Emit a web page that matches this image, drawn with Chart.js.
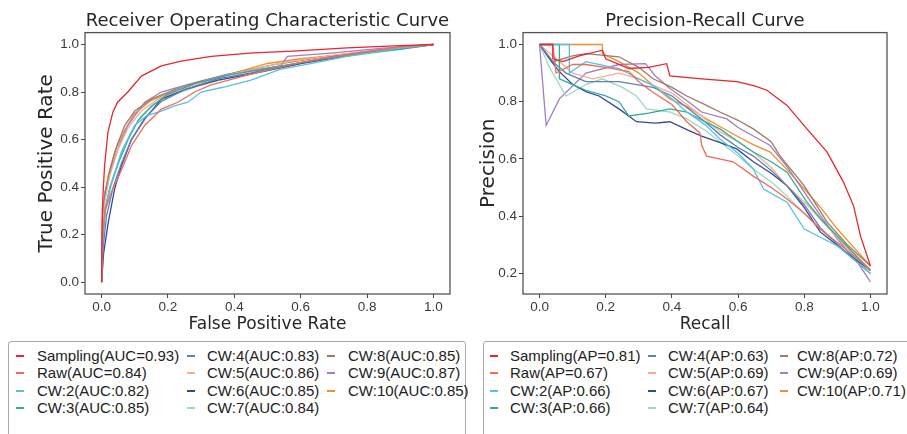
<!DOCTYPE html>
<html>
<head>
<meta charset="utf-8">
<script src="https://cdn.jsdelivr.net/npm/chart.js@4/dist/chart.umd.min.js"></script>
<style>
  body { margin: 0; width: 907px; height: 434px; overflow: hidden; background: #fff; position: relative; }
  canvas { position: absolute; top: 0; }
  #rocCanvas { left: 0; }
  #prCanvas { left: 460px; }
  .legend { position: absolute; top: 341px; height: 110px; border: 1.5px solid #a8a8a8; border-radius: 3px; box-sizing: border-box; }
  .item { position: absolute; font: 15px "Liberation Sans", Arial, sans-serif; color: #222; height: 17px; line-height: 17px; white-space: nowrap; }
  .swatch { position: absolute; height: 2px; width: 8px; }
</style>
</head>
<body>
<canvas id="rocCanvas" width="460" height="335"></canvas>
<canvas id="prCanvas" width="447" height="335"></canvas>
<div class="legend" id="rocLegend" style="left:8px; width:458px;"></div>
<div class="legend" id="prLegend" style="left:483px; width:440px;"></div>
<script>
const seriesNames = ["Sampling", "Raw", "CW:2", "CW:3", "CW:4", "CW:5", "CW:6", "CW:7", "CW:8", "CW:9", "CW:10"];
const seriesColors = ["#e8262b", "#f4695a", "#56c1e3", "#2fae95", "#5e7fb8", "#f7ad92", "#34489a", "#9fd8bd", "#9c7b6a", "#a57bc2", "#f28e2b"];
const rocLabels = ["Sampling(AUC=0.93)", "Raw(AUC=0.84)", "CW:2(AUC:0.82)", "CW:3(AUC:0.85)", "CW:4(AUC:0.83)", "CW:5(AUC:0.86)", "CW:6(AUC:0.85)", "CW:7(AUC:0.84)", "CW:8(AUC:0.85)", "CW:9(AUC:0.87)", "CW:10(AUC:0.85)"];
const prLabels = ["Sampling(AP=0.81)", "Raw(AP=0.67)", "CW:2(AP:0.66)", "CW:3(AP:0.66)", "CW:4(AP:0.63)", "CW:5(AP:0.69)", "CW:6(AP:0.67)", "CW:7(AP:0.64)", "CW:8(AP:0.72)", "CW:9(AP:0.69)", "CW:10(AP:0.71)"];
const axisTicks = [0, 0.2, 0.4, 0.6, 0.8, 1.0];
const precisionTicks = [0.2, 0.4, 0.6, 0.8, 1.0];

// ROC curves: [fpr, tpr]
const rocSampling = [[0,0],[0.002,0.3],[0.005,0.39],[0.009,0.49],[0.019,0.63],[0.034,0.715],[0.048,0.757],[0.079,0.8],[0.12,0.867],[0.18,0.91],[0.24,0.93],[0.33,0.95],[0.457,0.965],[0.578,0.972],[0.74,0.986],[0.9,0.995],[1,1]];
const rocRaw = [[0,0],[0.003,0.2],[0.01,0.3],[0.03,0.38],[0.05,0.44],[0.07,0.506],[0.09,0.574],[0.13,0.66],[0.16,0.7],[0.18,0.728],[0.23,0.757],[0.28,0.8],[0.33,0.83],[0.45,0.875],[0.6,0.925],[0.75,0.96],[0.9,0.99],[1,1]];
const rocCW2 = [[0,0],[0.004,0.2],[0.012,0.32],[0.03,0.42],[0.06,0.55],[0.1,0.66],[0.135,0.7],[0.18,0.72],[0.22,0.742],[0.26,0.757],[0.3,0.8],[0.366,0.82],[0.45,0.85],[0.538,0.895],[0.65,0.925],[0.74,0.95],[0.9,0.985],[1,1]];
const rocCW3 = [[0,0],[0.004,0.18],[0.01,0.3],[0.025,0.4],[0.05,0.5],[0.08,0.6],[0.11,0.68],[0.15,0.74],[0.2,0.79],[0.28,0.835],[0.38,0.87],[0.5,0.9],[0.65,0.935],[0.8,0.965],[0.9,0.98],[1,1]];
const rocCW4 = [[0,0],[0.005,0.15],[0.015,0.28],[0.035,0.4],[0.06,0.5],[0.09,0.6],[0.13,0.69],[0.18,0.76],[0.25,0.81],[0.35,0.855],[0.45,0.88],[0.55,0.91],[0.7,0.95],[0.85,0.975],[1,1]];
const rocCW5 = [[0,0],[0.003,0.22],[0.01,0.34],[0.025,0.45],[0.05,0.56],[0.08,0.65],[0.12,0.72],[0.17,0.77],[0.24,0.815],[0.32,0.85],[0.42,0.885],[0.55,0.925],[0.7,0.955],[0.85,0.98],[1,1]];
const rocCW6 = [[0,0],[0.006,0.12],[0.02,0.25],[0.039,0.39],[0.06,0.49],[0.09,0.6],[0.13,0.686],[0.18,0.77],[0.25,0.81],[0.35,0.85],[0.45,0.875],[0.6,0.92],[0.75,0.955],[0.9,0.985],[1,1]];
const rocCW7 = [[0,0],[0.004,0.2],[0.012,0.3],[0.03,0.41],[0.055,0.52],[0.085,0.62],[0.12,0.7],[0.16,0.75],[0.22,0.79],[0.3,0.83],[0.4,0.865],[0.52,0.9],[0.68,0.94],[0.85,0.97],[1,1]];
const rocCW8 = [[0,0],[0.003,0.25],[0.01,0.36],[0.025,0.47],[0.045,0.57],[0.07,0.66],[0.1,0.72],[0.15,0.77],[0.22,0.81],[0.3,0.845],[0.4,0.88],[0.52,0.915],[0.68,0.95],[0.85,0.98],[1,1]];
const rocCW9 = [[0,0],[0.003,0.25],[0.01,0.38],[0.03,0.48],[0.049,0.56],[0.079,0.66],[0.13,0.757],[0.18,0.8],[0.28,0.84],[0.38,0.875],[0.5,0.9],[0.54,0.91],[0.56,0.95],[0.7,0.965],[0.85,0.985],[1,1]];
const rocCW10 = [[0,0],[0.002,0.26],[0.008,0.36],[0.02,0.45],[0.04,0.55],[0.07,0.64],[0.1,0.71],[0.15,0.765],[0.22,0.805],[0.3,0.84],[0.4,0.88],[0.5,0.92],[0.6,0.94],[0.75,0.96],[0.9,0.99],[1,1]];

// PR curves: [recall, precision]
const prSampling = [[0,1],[0.04,1],[0.04,0.95],[0.07,0.94],[0.12,0.96],[0.19,0.98],[0.2,0.95],[0.27,0.916],[0.33,0.92],[0.384,0.933],[0.394,0.89],[0.49,0.88],[0.596,0.87],[0.65,0.855],[0.687,0.84],[0.748,0.787],[0.808,0.705],[0.869,0.624],[0.918,0.52],[0.949,0.436],[0.97,0.33],[1,0.226]];
const prRaw = [[0,1],[0.04,1],[0.05,0.9],[0.1,0.93],[0.14,0.93],[0.2,0.92],[0.27,0.905],[0.3,0.87],[0.34,0.835],[0.4,0.79],[0.445,0.73],[0.485,0.69],[0.49,0.647],[0.505,0.61],[0.585,0.59],[0.646,0.54],[0.7,0.5],[0.748,0.46],[0.8,0.41],[0.848,0.355],[0.92,0.29],[1,0.214]];
const prCW2 = [[0,1],[0.09,1],[0.09,0.9],[0.14,0.94],[0.24,0.916],[0.3,0.88],[0.343,0.857],[0.4,0.81],[0.445,0.764],[0.5,0.72],[0.545,0.67],[0.6,0.62],[0.646,0.565],[0.677,0.495],[0.748,0.449],[0.8,0.355],[0.9,0.296],[1,0.2]];
const prCW3 = [[0,1],[0.06,1],[0.06,0.88],[0.1,0.86],[0.14,0.84],[0.2,0.82],[0.24,0.8],[0.27,0.75],[0.33,0.76],[0.394,0.775],[0.445,0.764],[0.5,0.73],[0.545,0.705],[0.6,0.66],[0.646,0.624],[0.7,0.59],[0.748,0.554],[0.808,0.449],[0.85,0.39],[0.9,0.33],[1,0.21]];
const prCW4 = [[0,1],[0.04,0.94],[0.08,0.9],[0.14,0.87],[0.24,0.87],[0.343,0.85],[0.4,0.82],[0.445,0.78],[0.5,0.73],[0.545,0.685],[0.6,0.64],[0.646,0.61],[0.7,0.56],[0.748,0.506],[0.8,0.44],[0.848,0.36],[0.92,0.28],[1,0.2]];
const prCW5 = [[0,1],[0.05,0.95],[0.1,0.9],[0.16,0.88],[0.24,0.9],[0.3,0.88],[0.343,0.857],[0.4,0.83],[0.445,0.79],[0.5,0.74],[0.545,0.695],[0.6,0.66],[0.646,0.624],[0.7,0.57],[0.748,0.506],[0.8,0.45],[0.848,0.39],[0.92,0.3],[1,0.21]];
const prCW6 = [[0,1],[0.03,0.95],[0.06,0.905],[0.1,0.86],[0.14,0.835],[0.18,0.82],[0.24,0.775],[0.293,0.73],[0.35,0.725],[0.394,0.73],[0.45,0.7],[0.49,0.68],[0.55,0.655],[0.596,0.635],[0.646,0.59],[0.7,0.55],[0.748,0.506],[0.8,0.43],[0.848,0.345],[0.92,0.28],[1,0.21]];
const prCW7 = [[0,1],[0.03,0.92],[0.08,0.82],[0.14,0.86],[0.19,0.88],[0.25,0.85],[0.293,0.82],[0.323,0.775],[0.394,0.764],[0.445,0.74],[0.5,0.7],[0.545,0.66],[0.6,0.61],[0.646,0.565],[0.7,0.52],[0.748,0.47],[0.8,0.41],[0.848,0.355],[0.92,0.28],[1,0.2]];
const prCW8 = [[0,1],[0.04,0.94],[0.1,0.96],[0.14,0.968],[0.24,0.957],[0.3,0.92],[0.343,0.88],[0.4,0.85],[0.445,0.82],[0.5,0.79],[0.545,0.764],[0.6,0.735],[0.646,0.705],[0.7,0.66],[0.727,0.61],[0.8,0.506],[0.869,0.379],[0.93,0.3],[1,0.226]];
const prCW9 = [[0,1],[0.02,0.717],[0.06,0.81],[0.14,0.9],[0.24,0.93],[0.32,0.933],[0.35,0.89],[0.394,0.846],[0.45,0.8],[0.49,0.764],[0.566,0.74],[0.6,0.71],[0.646,0.68],[0.697,0.647],[0.75,0.57],[0.8,0.484],[0.85,0.4],[0.9,0.32],[0.96,0.24],[1,0.17]];
const prCW10 = [[0,1],[0.19,1],[0.19,0.968],[0.24,0.94],[0.3,0.9],[0.343,0.857],[0.394,0.81],[0.45,0.78],[0.49,0.75],[0.55,0.71],[0.596,0.68],[0.646,0.65],[0.697,0.624],[0.75,0.56],[0.8,0.495],[0.85,0.43],[0.9,0.355],[0.95,0.29],[1,0.226]];

const rocSeries = [rocSampling, rocRaw, rocCW2, rocCW3, rocCW4, rocCW5, rocCW6, rocCW7, rocCW8, rocCW9, rocCW10];
const prSeries = [prSampling, prRaw, prCW2, prCW3, prCW4, prCW5, prCW6, prCW7, prCW8, prCW9, prCW10];

const frame = {
  id: "frame",
  afterDraw(chart) {
    const { ctx, chartArea: a } = chart;
    ctx.save();
    ctx.strokeStyle = "#555";
    ctx.lineWidth = 1.3;
    ctx.strokeRect(a.left, a.top, a.right - a.left, a.bottom - a.top);
    ctx.restore();
  }
};

function makeDatasets(series) {
  return series.map((pts, i) => ({
    label: seriesNames[i],
    data: pts.map(p => ({ x: p[0], y: p[1] })),
    borderColor: seriesColors[i],
    borderWidth: 1.3,
    pointRadius: 0,
    tension: 0,
    fill: false
  }));
}

function axis(min, max, ticks, titleText, titleFont, titlePad, fitSize, horizontal) {
  return {
    type: "linear",
    min: min,
    max: max,
    afterBuildTicks: s => { s.ticks = ticks.map(v => ({ value: v })); },
    afterFit: s => { if (horizontal) s.height = fitSize; else s.width = fitSize; },
    border: { display: false },
    grid: { drawOnChartArea: false, drawTicks: true, tickLength: 4, tickColor: "#444", lineWidth: 1 },
    ticks: {
      padding: horizontal ? 1 : 2,
      color: "#3a3a3a",
      font: { family: "Liberation Sans", size: 13.5 },
      callback: v => v.toFixed(1),
      maxRotation: 0
    },
    title: {
      display: true,
      text: titleText,
      color: "#262626",
      font: { family: "DejaVu Sans", size: titleFont, lineHeight: 1.2 },
      padding: titlePad
    }
  };
}

function makeChart(id, series, titleText, xOpts, yOpts, padRight) {
  return new Chart(document.getElementById(id), {
    type: "line",
    data: { datasets: makeDatasets(series) },
    options: {
      responsive: false,
      animation: false,
      layout: { padding: { left: 0, right: padRight, top: 0, bottom: 0 } },
      plugins: {
        legend: { display: false },
        tooltip: { enabled: false },
        title: {
          display: true,
          fullSize: false,
          text: titleText,
          color: "#262626",
          font: { family: "DejaVu Sans", size: 18, weight: "normal", lineHeight: 1.2 },
          padding: { top: 11, bottom: 0 }
        }
      },
      scales: { x: xOpts, y: yOpts }
    },
    plugins: [frame]
  });
}

makeChart("rocCanvas", rocSeries, "Receiver Operating Characteristic Curve",
  axis(-0.05, 1.05, axisTicks, "False Positive Rate", 17, { top: 0, bottom: 0 }, 41, true),
  axis(-0.05, 1.05, axisTicks, "True Positive Rate", 20, { top: 35, bottom: 0 }, 85, false),
  10);

makeChart("prCanvas", prSeries, "Precision-Recall Curve",
  axis(-0.05, 1.05, axisTicks, "Recall", 17, { top: 0, bottom: 0 }, 41, true),
  axis(0.128, 1.0415, precisionTicks, "Precision", 20, { top: 17, bottom: 0 }, 63, false),
  20);

function buildLegend(id, labels, swatchX, textX, boxLeft) {
  const box = document.getElementById(id);
  labels.forEach((text, i) => {
    const col = Math.floor(i / 4), row = i % 4;
    const top = Math.round(5 + row * 17.33);
    const sw = document.createElement("div");
    sw.className = "swatch";
    sw.style.left = Math.round(swatchX[col] - boxLeft - 1.5) + "px";
    sw.style.top = (top + 8) + "px";
    sw.style.background = seriesColors[i];
    box.appendChild(sw);
    const t = document.createElement("div");
    t.className = "item";
    t.style.left = Math.round(textX[col] - boxLeft - 1.5) + "px";
    t.style.top = top + "px";
    t.textContent = text;
    box.appendChild(t);
  });
}

buildLegend("rocLegend", rocLabels, [16, 187, 327], [37, 207, 348], 8);
buildLegend("prLegend", prLabels, [490, 648, 780], [510, 668, 797], 483);
</script>
</body>
</html>
